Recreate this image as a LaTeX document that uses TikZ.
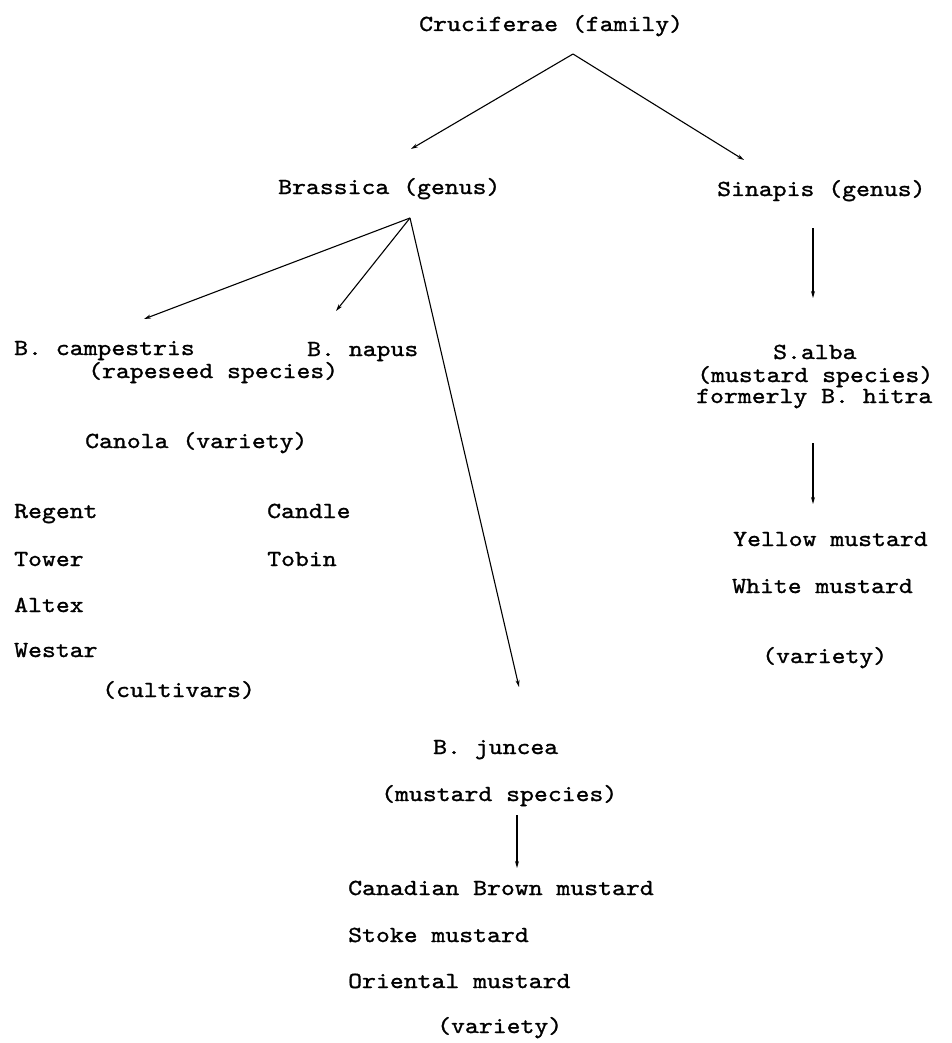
\documentclass[tikz,border=0pt]{standalone}
\usepackage{fontspec}
\newfontfamily\typew{lmmono10-regular}[Extension=.otf, FakeStretch=1.15, FakeBold=1.2]
\usetikzlibrary{arrows.meta}

\tikzset{
  lbl/.style={font=\typew\fontsize{23}{27}\selectfont, inner sep=0pt, anchor=base west},
  arr/.style={line width=1.1pt, -{Stealth[length=7pt,width=4pt]}}
}

\begin{document}
\begin{tikzpicture}[x=1pt,y=-1pt]
    % Page frame
    \useasboundingbox (0,0) rectangle (952,1043);

    % Family
    \node[lbl] (cruc) at (419,31) {Cruciferae (family)};

    % Genus level
    \node[lbl] (brass) at (278,194) {Brassica (genus)};
    \node[lbl] (sinap) at (717,196) {Sinapis (genus)};

    % Brassica species (rapeseed)
    \node[lbl] (camp)  at (14,355)  {B. campestris};
    \node[lbl] (napus) at (307,356) {B. napus};
    \node[lbl] (rape)  at (88,378)  {(rapeseed species)};
    \node[lbl] (canola) at (85,448) {Canola (variety)};

    % Cultivars
    \node[lbl] (regent) at (14,518)  {Regent};
    \node[lbl] (candle) at (267,518) {Candle};
    \node[lbl] (tower)  at (14,566)  {Tower};
    \node[lbl] (tobin)  at (267,566) {Tobin};
    \node[lbl] (altex)  at (14,612)  {Altex};
    \node[lbl] (westar) at (14,657)  {Westar};
    \node[lbl] (cultiv) at (102,697) {(cultivars)};

    % Sinapis species and varieties
    \node[lbl] (salba)    at (773,359) {S.alba};
    \node[lbl] (smust)    at (697,382) {(mustard species)};
    \node[lbl] (formerly) at (696,403) {formerly B. hitra};
    \node[lbl] (yellow)   at (733,546) {Yellow mustard};
    \node[lbl] (white)    at (732,593) {White mustard};
    \node[lbl] (svar)     at (762,663) {(variety)};

    % Brassica juncea and varieties
    \node[lbl] (juncea)   at (433,754)  {B. juncea};
    \node[lbl] (jmust)    at (381,801)  {(mustard species)};
    \node[lbl] (canadian) at (348,895)  {Canadian Brown mustard};
    \node[lbl] (stoke)    at (348,942)  {Stoke mustard};
    \node[lbl] (oriental) at (348,988)  {Oriental mustard};
    \node[lbl] (jvar)     at (437,1033) {(variety)};

    % Arrow end points (fork = start below a label, in = tip above a label)
    \coordinate (cruc-fork)  at (573,54);
    \coordinate (brass-in)   at (411,149);
    \coordinate (sinap-in)   at (744,160);
    \coordinate (brass-fork) at (410,218);
    \coordinate (camp-in)    at (144,319);
    \coordinate (napus-in)   at (336,311);
    \coordinate (juncea-in)  at (519,687);
    \coordinate (sinap-out)  at (813,228);
    \coordinate (salba-in)   at (813,298);
    \coordinate (salba-out)  at (813,443);
    \coordinate (yellow-in)  at (813,504);
    \coordinate (juncea-out) at (517,815);
    \coordinate (canad-in)   at (517,868);

    % Connectors
    \draw[arr] (cruc-fork) -- (brass-in);
    \draw[arr] (cruc-fork) -- (sinap-in);
    \draw[arr] (brass-fork) -- (camp-in);
    \draw[arr] (brass-fork) -- (napus-in);
    \draw[arr] (brass-fork) -- (juncea-in);
    \draw[arr] (sinap-out) -- (salba-in);
    \draw[arr] (salba-out) -- (yellow-in);
    \draw[arr] (juncea-out) -- (canad-in);

\end{tikzpicture}
\end{document}
